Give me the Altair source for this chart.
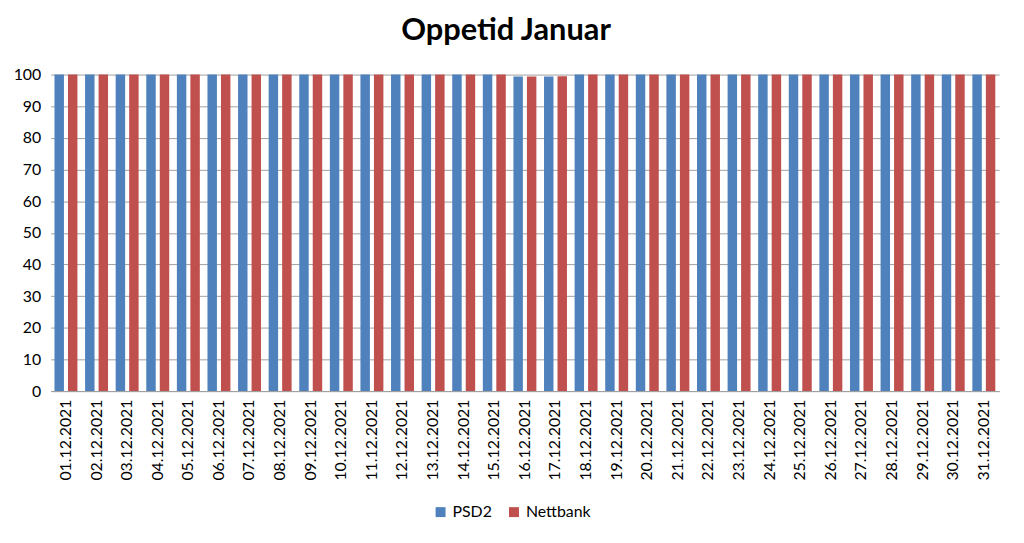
import altair as alt
import pandas as pd

dates = [f"{d:02d}.12.2021" for d in range(1, 32)]
psd2 = [100, 100, 100, 100, 100, 100, 100, 100, 100, 100,
        100, 100, 100, 100, 100, 99.4, 99.4, 100, 100, 100,
        100, 100, 100, 100, 100, 100, 100, 100, 100, 100, 100]
nettbank = [100, 100, 100, 100, 100, 100, 100, 100, 100, 100,
            100, 100, 100, 100, 100, 99.4, 99.5, 100, 100, 100,
            100, 100, 100, 100, 100, 100, 100, 100, 100, 100, 100]
series = ["PSD2", "Nettbank"]
colors = ["#4F81BD", "#C0504D"]

rows = []
for i, d in enumerate(dates):
    rows.append({"dato": d, "serie": "PSD2", "verdi": psd2[i]})
    rows.append({"dato": d, "serie": "Nettbank", "verdi": nettbank[i]})
df = pd.DataFrame(rows)

FONT = "Lato"

chart = alt.Chart(df).mark_bar().encode(
    x=alt.X("dato:N", sort=dates, title=None,
            scale=alt.Scale(paddingInner=0.25, paddingOuter=0.125),
            axis=alt.Axis(labelAngle=-90, labelFontSize=16, labelFont=FONT,
                          labelColor="#000000", labelPadding=8,
                          ticks=False, domainColor="#a0a0a0", grid=False)),
    xOffset=alt.XOffset("serie:N", sort=series,
                        scale=alt.Scale(paddingInner=0.3)),
    y=alt.Y("verdi:Q", title=None,
            scale=alt.Scale(domain=[0, 100], nice=False),
            axis=alt.Axis(values=list(range(0, 101, 10)), labelFontSize=16,
                          labelFont=FONT, labelColor="#000000", labelPadding=10,
                          ticks=False, domain=False, gridColor="#a0a0a0",
                          gridOpacity=1)),
    color=alt.Color("serie:N", sort=series,
                    scale=alt.Scale(domain=series, range=colors),
                    legend=alt.Legend(title=None, orient="none", direction="horizontal",
                                      legendX=385, legendY=433,
                                      labelFont=FONT, labelFontSize=16,
                                      labelColor="#000000",
                                      symbolType="square", symbolSize=100,
                                      symbolStrokeWidth=0, columnPadding=14)),
).properties(
    width=956,
    height=319,
    title=alt.TitleParams("Oppetid Januar", font=FONT, fontSize=31,
                          fontWeight="bold", color="#000000",
                          anchor="middle", dx=-19, offset=20),
    autosize=alt.AutoSizeParams(type="none"),
    padding={"left": 43, "top": 65, "right": 17, "bottom": 151},
).configure_view(stroke=None)

chart.save("out.html", embed_options={"renderer": "svg", "actions": False})
